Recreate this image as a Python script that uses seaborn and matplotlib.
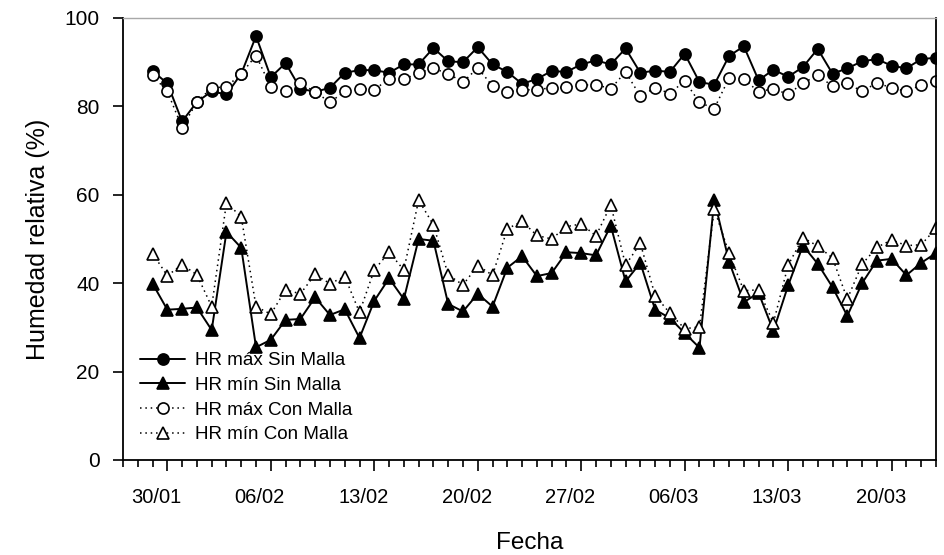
import numpy as np
import pandas as pd
import matplotlib
matplotlib.use("Agg")
import matplotlib.pyplot as plt
import matplotlib.dates as mdates
from matplotlib.transforms import ScaledTranslation
import seaborn as sns

# ---- data ----
start_date = "2023-01-29"
n_days = 54
dates = pd.date_range(start_date, periods=n_days, freq="D")

hr_max_sin = [88.0, 85.2, 76.6, 81.0, 83.4, 82.7, 87.4, 95.9, 86.6, 89.8,
              84.0, 83.3, 84.2, 87.6, 88.2, 88.2, 87.6, 89.5, 89.5, 93.2,
              90.2, 90.0, 93.4, 89.5, 87.8, 85.1, 86.2, 88.0, 87.8, 89.5,
              90.4, 89.5, 93.1, 87.6, 88.1, 87.8, 91.9, 85.5, 84.9, 91.4,
              93.6, 85.9, 88.3, 86.7, 88.9, 93.0, 87.4, 88.6, 90.2, 90.7,
              89.2, 88.6, 90.7, 91.0]
hr_min_sin = [39.9, 34.0, 34.2, 34.5, 29.4, 51.6, 48.0, 25.5, 27.2, 31.7,
              31.9, 36.8, 32.8, 34.1, 27.6, 36.0, 41.1, 36.4, 50.0, 49.6,
              35.3, 33.6, 37.6, 34.7, 43.5, 46.1, 41.6, 42.3, 47.0, 46.8,
              46.3, 53.0, 40.4, 44.6, 34.0, 32.1, 28.7, 25.4, 58.8, 44.9,
              35.7, 37.8, 29.2, 39.5, 48.5, 44.4, 39.1, 32.6, 40.0, 45.1,
              45.5, 41.8, 44.6, 46.8]
hr_max_con = [87.0, 83.4, 75.2, 81.0, 84.2, 84.4, 87.4, 91.5, 84.4, 83.4,
              85.2, 83.3, 80.9, 83.4, 84.0, 83.8, 86.2, 86.1, 87.6, 88.6,
              87.4, 85.5, 88.7, 84.6, 83.3, 83.7, 83.8, 84.2, 84.3, 84.8,
              84.9, 84.0, 87.8, 82.3, 84.2, 82.9, 85.8, 80.9, 79.5, 86.4,
              86.2, 83.3, 84.0, 82.7, 85.3, 87.0, 84.6, 85.2, 83.4, 85.3,
              84.2, 83.4, 84.8, 85.8]
hr_min_con = [46.7, 41.7, 44.2, 41.9, 34.7, 58.2, 55.0, 34.7, 33.0, 38.5,
              37.6, 42.0, 39.9, 41.5, 33.4, 43.0, 47.0, 43.0, 58.8, 53.2,
              41.9, 39.6, 44.0, 41.8, 52.3, 54.0, 50.8, 50.0, 52.8, 53.4,
              50.7, 57.7, 44.1, 49.0, 37.2, 33.2, 29.7, 30.1, 56.8, 46.8,
              38.3, 38.5, 31.0, 44.1, 50.3, 48.4, 45.7, 36.4, 44.3, 48.1,
              49.8, 48.5, 48.7, 52.4]

series_names = ["HR máx Sin Malla", "HR mín Sin Malla",
                "HR máx Con Malla", "HR mín Con Malla"]
major_labels = ["30/01", "06/02", "13/02", "20/02", "27/02", "06/03", "13/03", "20/03"]
major_dates = pd.to_datetime(["2023-01-30", "2023-02-06", "2023-02-13", "2023-02-20",
                              "2023-02-27", "2023-03-06", "2023-03-13", "2023-03-20"])
y_ticks = [0, 20, 40, 60, 80, 100]

# ---- plotting ----
sns.set_theme(style="white")
plt.rcParams["font.family"] = ["Liberation Sans", "DejaVu Sans"]
plt.rcParams.update({"text.color": "black", "axes.labelcolor": "black",
                     "xtick.color": "black", "ytick.color": "black"})

fig = plt.figure(figsize=(9.44, 5.55), dpi=100)
ax = fig.add_axes([0.1303, 0.1712, 0.9915 - 0.1303, 0.9676 - 0.1712])

values = [hr_max_sin, hr_min_sin, hr_max_con, hr_min_con]
styles = [
    dict(linestyle="-", marker="o", markerfacecolor="black", linewidth=1.4),
    dict(linestyle="-", marker="^", markerfacecolor="black", linewidth=1.4),
    dict(linestyle=(0, (1, 2.5)), marker="o", markerfacecolor="white", linewidth=1.1),
    dict(linestyle=(0, (1, 2.5)), marker="^", markerfacecolor="white", linewidth=1.1),
]
for name, vals, st in zip(series_names, values, styles):
    df = pd.DataFrame({"Fecha": dates, "HR": vals})
    sns.lineplot(data=df, x="Fecha", y="HR", ax=ax, color="black",
                 markeredgecolor="black", markeredgewidth=1.2,
                 markersize=8 if st["marker"] == "o" else 9,
                 label=name, **st)

ax.set_xlim(pd.Timestamp("2023-01-27"), pd.Timestamp("2023-03-23"))
ax.set_ylim(0, 100)
ax.set_yticks(y_ticks)
ax.set_xticks(major_dates)
ax.set_xticklabels(major_labels)
ax.xaxis.set_minor_locator(mdates.DayLocator())

ax.tick_params(axis="x", which="major", direction="out", length=8, width=1.2,
               labelsize=14.5, pad=12, color="black", labelcolor="black", bottom=True)
ax.tick_params(axis="x", which="minor", direction="out", length=5, width=1.2,
               color="black", bottom=True)
ax.tick_params(axis="y", which="major", direction="out", length=7, width=1.2,
               labelsize=15, pad=10, color="black", labelcolor="black", left=True)

for lbl in ax.get_xticklabels():
    lbl.set_transform(lbl.get_transform() + ScaledTranslation(-11 / 100, 0, fig.dpi_scale_trans))

ax.set_xlabel("Fecha", fontsize=17.5, labelpad=18, color="black")
ax.set_ylabel("Humedad relativa (%)", fontsize=18, labelpad=10, color="black")

for side in ["left", "bottom", "right"]:
    ax.spines[side].set_color("black")
    ax.spines[side].set_linewidth(1.3)
ax.spines["top"].set_color("#a8a8a8")
ax.spines["top"].set_linewidth(1.0)

leg = ax.legend(loc="upper left", bbox_to_anchor=(0.021, 0.244), frameon=False,
                fontsize=13.5, handlelength=2.4, handletextpad=0.55,
                labelspacing=0.4, borderpad=0, borderaxespad=0)
for t in leg.get_texts():
    t.set_color("black")

fig.savefig("out.png", dpi=100)
